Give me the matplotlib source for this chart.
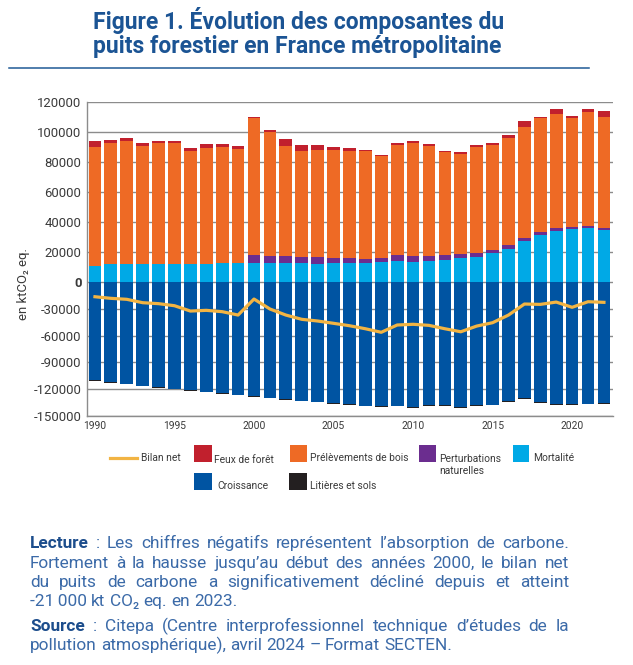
import numpy as np
import matplotlib
matplotlib.use("Agg")
import matplotlib.pyplot as plt
from matplotlib import font_manager
from matplotlib.patches import Rectangle
from matplotlib.lines import Line2D
from matplotlib.ticker import NullLocator, FixedLocator, FixedFormatter

# ---------------- data (kt CO2 eq.) ----------------
years = list(range(1990, 2023))
mortalite = [11100, 12000, 12000, 12000, 12000, 12000, 12000, 12000, 12700, 12700,
             12700, 12700, 12700, 12700, 12400, 13100, 13100, 13100, 13800, 14400,
             13800, 14400, 15100, 16400, 17100, 19700, 22400, 27500, 31500, 34200,
             35500, 36400, 34900]
perturbations = [0, 0, 0, 0, 0, 0, 0, 0, 0, 0,
                 5700, 5100, 5100, 4400, 4500, 3100, 3100, 2400, 2400, 4000,
                 4000, 3400, 3300, 2700, 2600, 1800, 2700, 2000, 2000, 2200,
                 1600, 1300, 1500]
prelevements = [79300, 81100, 82200, 79100, 80700, 80700, 75800, 77800, 77700, 76400,
                91400, 82400, 73300, 70700, 71500, 72200, 71600, 72300, 68200, 73400,
                75300, 73300, 68700, 66600, 70500, 70300, 71100, 74000, 76300, 76000,
                72700, 75800, 73800]
feux = [3800, 1800, 2000, 2000, 1500, 1500, 1700, 2400, 1800, 1800,
        400, 1300, 4400, 4000, 3100, 1800, 1700, 400, 500, 1300,
        1100, 1100, 700, 1400, 1300, 1300, 2000, 4000, 400, 3100,
        1100, 2000, 4000]
croissance = [-110400, -112600, -114400, -116300, -118200, -119700, -121600, -123400, -125000, -126800,
              -128400, -130200, -131700, -133600, -134700, -136200, -137400, -139200, -139600, -139200,
              -140700, -138500, -138500, -140700, -138500, -137700, -134000, -130600, -135100, -137400,
              -137400, -136300, -136200]
litieres = [-300, -300, -300, -300, -300, -300, -300, -300, -300, -300,
            -300, -300, -300, -300, -300, -300, -1000, -300, -1000, -300,
            -300, -1000, -300, -300, -300, -300, -300, -1000, -300, -1000,
            -300, -1000, -300]
bilan_net = [-16200, -18000, -19100, -22900, -24000, -26300, -32300, -31500, -33000, -36800,
             -18800, -30000, -36800, -41600, -43500, -46100, -48800, -52200, -56200, -48000,
             -47200, -48400, -52200, -55600, -49200, -45400, -36800, -24400, -24800, -22200,
             -28100, -21800, -22500]

pos_ticks = [0, 20000, 40000, 60000, 80000, 100000, 120000]
neg_ticks = [-150000, -120000, -90000, -60000, -30000]
xtick_years = [1990, 1995, 2000, 2005, 2010, 2015, 2020]

title_lines = ["Figure 1. Évolution des composantes du",
               "puits forestier en France métropolitaine"]
legend_labels = ["Bilan net", "Feux de forêt", "Prélèvements de bois",
                 "Perturbations\nnaturelles", "Mortalité", "Croissance", "Litières et sols"]
ylabel = "en ktCO₂ eq."
body_lines = [
    ("**Lecture : Les chiffres négatifs représentent l’absorption de carbone.", True),
    ("Fortement à la hausse jusqu’au début des années 2000, le bilan net", True),
    ("du puits de carbone a significativement décliné depuis et atteint", True),
    ("-21\u2009000 kt CO₂ eq. en 2023.", False),
    ("**Source : Citepa (Centre interprofessionnel technique d’études de la", True),
    ("pollution atmosphérique), avril 2024 – Format SECTEN.", False),
]

# ---------------- style ----------------
C_MORT = "#00a9e6"
C_PERT = "#6b2d8f"
C_PREL = "#ee6a25"
C_FEUX = "#c1202d"
C_CROI = "#0054a2"
C_LIT = "#231f20"
C_BIL = "#f2b443"
C_TITLE = "#1b5494"
C_BOLD = "#1c4d8c"
C_BODY = "#3b6aa8"
C_TXT = "#3a3a3a"
C_GRID = "#8c8c8c"

avail = {f.name for f in font_manager.fontManager.ttflist}
BASE = "Liberation Sans Narrow" if "Liberation Sans Narrow" in avail else "Roboto"
FAM = [BASE, "DejaVu Sans"]
plt.rcParams["font.family"] = FAM

W, H = 633, 665
fig = plt.figure(figsize=(W / 100, H / 100), dpi=100)
fig.patch.set_facecolor("white")

def fx(x):
    return x / W

def fy(y):
    return 1 - y / H

renderer = fig.canvas.get_renderer()

def text_width(s, size, weight="normal", family=None):
    t = fig.text(0, 0, s, fontsize=size, fontweight=weight, family=family or FAM)
    w = t.get_window_extent(renderer=renderer).width
    t.remove()
    return w

def fit_size(s, target, weight="normal", family=None):
    return 10 * target / text_width(s, 10, weight, family)

# ---------------- axes ----------------
ax = fig.add_axes([fx(87), fy(415.7), (613 - 87) / W, (415.7 - 102.3) / H])
K = 26.67 / 45.0  # negative side compressed in the reference


def fwd(y):
    y = np.asarray(y, dtype=float)
    return np.where(y >= 0, y, y * K)


def inv(z):
    z = np.asarray(z, dtype=float)
    return np.where(z >= 0, z, z / K)


ax.set_yscale("function", functions=(fwd, inv))

x = np.array(years)
bw = 0.8
mort = np.array(mortalite)
pert = np.array(perturbations)
prel = np.array(prelevements)
fx_ = np.array(feux)
cro = np.array(croissance)
lit = np.array(litieres)

ax.bar(x, mort, bw, color=C_MORT, zorder=2, linewidth=0)
ax.bar(x, pert, bw, bottom=mort, color=C_PERT, zorder=2, linewidth=0)
ax.bar(x, prel, bw, bottom=mort + pert, color=C_PREL, zorder=2, linewidth=0)
ax.bar(x, fx_, bw, bottom=mort + pert + prel, color=C_FEUX, zorder=2, linewidth=0)
ax.bar(x, cro, bw, color=C_CROI, zorder=2, linewidth=0)
ax.bar(x, lit, bw, bottom=cro, color=C_LIT, zorder=2, linewidth=0)
ax.plot(x, bilan_net, color=C_BIL, lw=2.3, zorder=4, solid_joinstyle="round")

ax.set_xlim(1989.5, 2022.57)
ax.set_ylim(-150000, 120000)

yt = neg_ticks + pos_ticks
ax.yaxis.set_major_locator(FixedLocator(yt))
ax.yaxis.set_major_formatter(FixedFormatter([str(v) for v in yt]))
ax.yaxis.set_minor_locator(NullLocator())
ax.set_xticks(xtick_years)
ax.set_xticklabels([str(v) for v in xtick_years])

ysz = fit_size("120000", 44)
xsz = fit_size("1990", 23)
ax.tick_params(axis="y", length=0, pad=4, labelsize=ysz, labelcolor=C_TXT)
ax.tick_params(axis="x", length=0, pad=4, labelsize=xsz, labelcolor=C_TXT)
for lab in ax.get_yticklabels():
    if lab.get_text() == "0":
        lab.set_fontweight("bold")

ax.yaxis.grid(True, color=C_GRID, lw=1.0)
ax.set_axisbelow(True)
for s in ["top", "right"]:
    ax.spines[s].set_visible(False)
for s in ["left", "bottom"]:
    ax.spines[s].set_color(C_GRID)
    ax.spines[s].set_linewidth(1.0)

# y label
ylsz = fit_size(ylabel, 72)
fig.text(fx(23), fy(284), ylabel, rotation=90, ha="center", va="center",
         fontsize=ylsz, color=C_TXT)

# ---------------- title ----------------
tsz = fit_size(title_lines[0], 412, "bold")
fig.text(fx(93), fy(29), title_lines[0], fontsize=tsz, fontweight="bold",
         color=C_TITLE, va="baseline", ha="left")
fig.text(fx(93), fy(53), title_lines[1], fontsize=tsz, fontweight="bold",
         color=C_TITLE, va="baseline", ha="left")
fig.add_artist(Line2D([fx(9), fx(589)], [fy(67.5), fy(67.5)], color="#1f5a96",
                      lw=1.1, transform=fig.transFigure))

# ---------------- legend ----------------
lsz = fit_size("Prélèvements de bois", 99)


def patch(x0, y0, x1, y1, c):
    fig.add_artist(Rectangle((fx(x0), fy(y1)), (x1 - x0) / W, (y1 - y0) / H,
                             transform=fig.transFigure, color=c, lw=0))


def ltext(xp, yp, s):
    fig.text(fx(xp), fy(yp), s, fontsize=lsz, color=C_TXT, ha="left",
             va="center", linespacing=1.25)


fig.add_artist(Line2D([fx(110), fx(137)], [fy(458), fy(458)], color=C_BIL,
                      lw=2.3, transform=fig.transFigure))
ltext(141, 458, legend_labels[0])
patch(194, 445, 212, 462, C_FEUX)
ltext(214, 460, legend_labels[1])
patch(290, 445, 307, 462, C_PREL)
ltext(310, 458, legend_labels[2])
patch(419, 445, 436, 462, C_PERT)
ltext(439, 465, legend_labels[3])
patch(513, 445, 529, 462, C_MORT)
ltext(533, 458, legend_labels[4])
patch(194, 473, 212, 490, C_CROI)
ltext(217, 486, legend_labels[5])
patch(289, 473, 307, 490, C_LIT)
ltext(310, 486, legend_labels[6])

# ---------------- body text (justified) ----------------
def words_of(line):
    out = []
    for w in line.split(" "):
        if w.startswith("**"):
            out.append((w[2:], "bold", C_BOLD))
        else:
            out.append((w, "normal", C_BODY))
    return out


def natural_width(line, size):
    ws = words_of(line)
    sp = text_width("a a", size) - text_width("aa", size)
    return sum(text_width(w, size, wt) for w, wt, _ in ws) + sp * (len(ws) - 1)


bsz = 10 * 422 / natural_width(body_lines[5][0], 10)
space = text_width("a a", bsz) - text_width("aa", bsz)
X0, X1 = 30, 569
baselines = [548, 568, 587, 606, 631, 650]
for (line, just), yb in zip(body_lines, baselines):
    ws = words_of(line)
    widths = [text_width(w, bsz, wt) for w, wt, _ in ws]
    if just and len(ws) > 1:
        gap = (X1 - X0 - sum(widths)) / (len(ws) - 1)
    else:
        gap = space
    xp = X0
    for (w, wt, c), wd in zip(ws, widths):
        fig.text(fx(xp), fy(yb), w, fontsize=bsz, fontweight=wt, color=c,
                 ha="left", va="baseline")
        xp += wd + gap

fig.savefig("out.png", dpi=100, facecolor="white")
